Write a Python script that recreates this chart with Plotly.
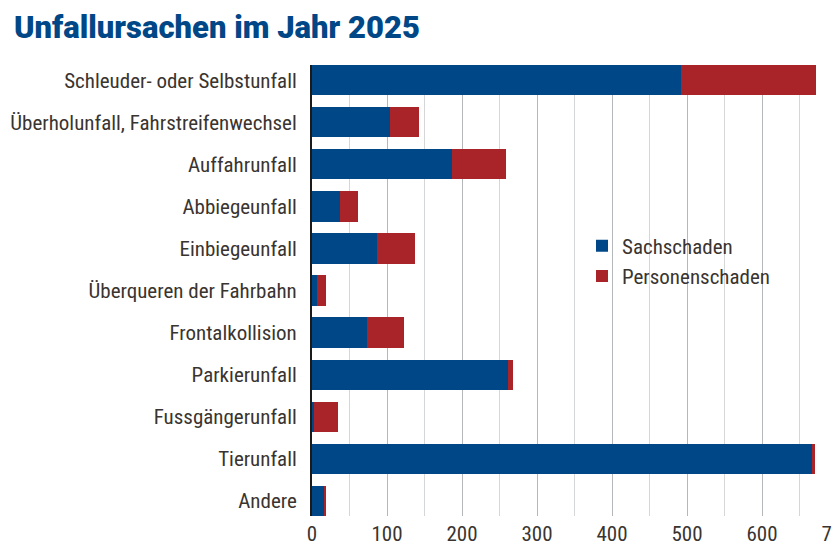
import plotly.graph_objects as go

categories = [
    "Schleuder- oder Selbstunfall",
    "Überholunfall, Fahrstreifenwechsel",
    "Auffahrunfall",
    "Abbiegeunfall",
    "Einbiegeunfall",
    "Überqueren der Fahrbahn",
    "Frontalkollision",
    "Parkierunfall",
    "Fussgängerunfall",
    "Tierunfall",
    "Andere",
]
sachschaden = [492, 104, 187, 37, 87, 6, 73, 261, 3, 667, 17]
personenschaden = [180, 38, 72, 24, 50, 12, 49, 7, 31, 4, 2]
x_ticks = [0, 100, 200, 300, 400, 500, 600, 700]

BLUE = "#004787"
RED = "#a82428"
TEXT = "#3a3430"
FONT = "Roboto Condensed, Liberation Sans Narrow, Arial Narrow, DejaVu Sans Condensed, Roboto, sans-serif"

FIG_W, FIG_H = 840, 549
ML, MR, MT, MB = 312, 0, 65, 33
PW = FIG_W - ML - MR
PH = FIG_H - MT - MB
X_MAX = 704

fig = go.Figure()
fig.add_trace(go.Bar(y=categories, x=sachschaden, orientation="h", name="Sachschaden",
                     marker=dict(color=BLUE, line=dict(width=0))))
fig.add_trace(go.Bar(y=categories, x=personenschaden, orientation="h", name="Personenschaden",
                     marker=dict(color=RED, line=dict(width=0))))

fig.update_layout(
    width=FIG_W, height=FIG_H,
    barmode="stack", bargap=0.28,
    paper_bgcolor="white", plot_bgcolor="white",
    margin=dict(l=ML, r=MR, t=MT, b=MB, autoexpand=False),
    font=dict(family=FONT, size=21, color=TEXT),
    title=dict(text="Unfallursachen im Jahr 2025", x=14/FIG_W, xanchor="left", xref="container",
               y=1 - 27/FIG_H, yanchor="middle", yref="container",
               font=dict(family="Roboto, Inter, sans-serif", size=31, color="#004787", weight=900)),
    showlegend=True,
    legend=dict(x=(582-ML)/PW, y=(516-261)/PH, xanchor="left", yanchor="middle", bgcolor="rgba(0,0,0,0)",
                font=dict(size=21, color=TEXT), itemwidth=30, tracegroupgap=0, traceorder="normal"),
    shapes=[dict(type="rect", xref="paper", yref="paper", layer="between",
                 x0=(575-ML)/PW, x1=(786-ML)/PW, y0=(516-312)/PH, y1=(516-217)/PH,
                 fillcolor="white", line=dict(width=0))],
)
fig.update_xaxes(range=[0, X_MAX], tickvals=x_ticks, showgrid=True, gridcolor="#b4b8bb", gridwidth=1,
                 minor=dict(dtick=50, showgrid=True, gridcolor="#d4d6d8", gridwidth=1),
                 zeroline=False, showline=False, ticks="", ticklabelstandoff=3,
                 ticklabeloverflow="allow",
                 tickfont=dict(size=21, color=TEXT), fixedrange=True)
fig.update_yaxes(categoryorder="array", categoryarray=categories, range=[10.36, -0.36],
                 showgrid=False, zeroline=False, showline=True, linecolor="#1a1a1a", linewidth=2,
                 ticks="", ticklabelstandoff=9, tickfont=dict(size=21, color=TEXT), fixedrange=True)

fig.write_html("out.html", config={"displayModeBar": False},
               post_script="document.body.style.margin='0';document.body.style.overflow='hidden';")
